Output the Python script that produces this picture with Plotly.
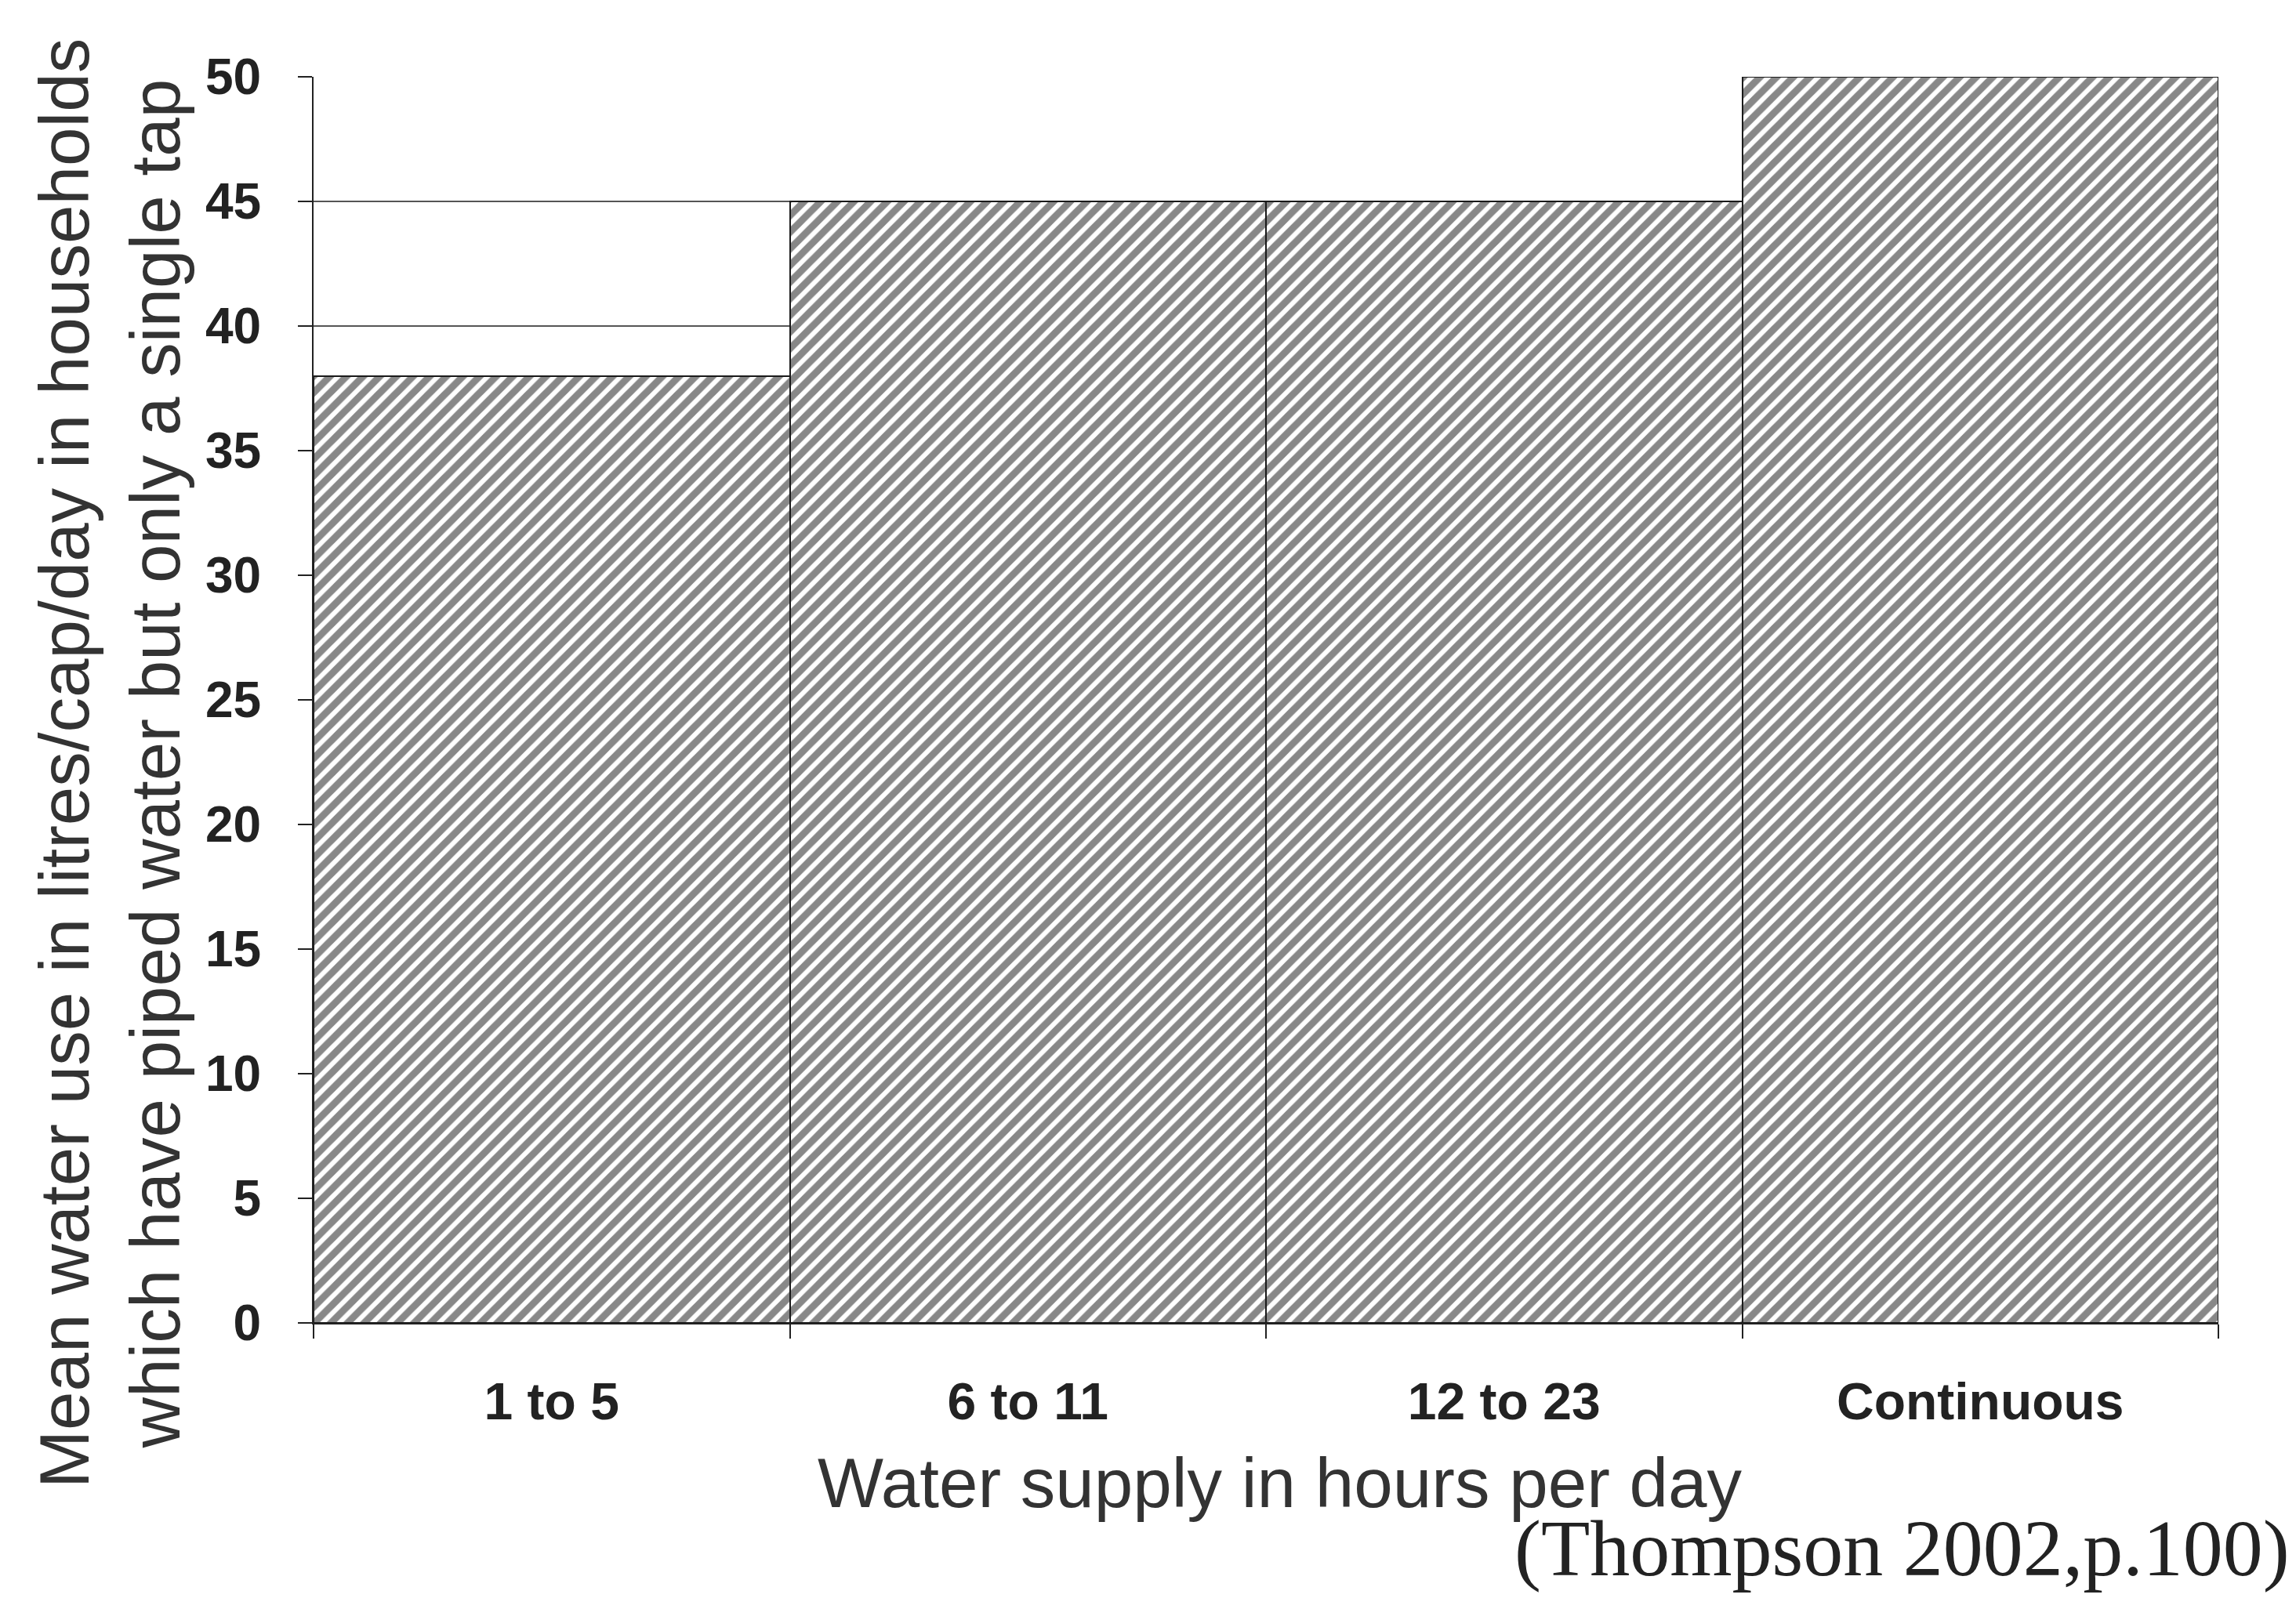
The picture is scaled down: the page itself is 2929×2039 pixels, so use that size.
import plotly.graph_objects as go

categories = ["1 to 5", "6 to 11", "12 to 23", "Continuous"]
values = [38, 45, 45, 50]
y_ticks = [0, 5, 10, 15, 20, 25, 30, 35, 40, 45, 50]

x_title = "Water supply in hours per day"
y_title_1 = "Mean water use in litres/cap/day in households"
y_title_2 = "which have piped water but only a single tap"
source = "(Thompson 2002,p.100)"

W, H = 2929, 2039
L, R, T, B = 392, 107, 90, 359

fig = go.Figure()
fig.add_trace(go.Bar(
    x=categories, y=values,
    marker=dict(
        color="white",
        line=dict(color="#1a1a1a", width=2),
        pattern=dict(shape="/", fgcolor="#111111", bgcolor="white", size=15, solidity=0.6),
    ),
    showlegend=False,
))

fig.update_layout(
    width=W, height=H,
    margin=dict(l=L, r=R, t=T, b=B, pad=0),
    paper_bgcolor="white", plot_bgcolor="white",
    bargap=0,
    font=dict(family="Liberation Sans, Arial, sans-serif", color="#222222"),
    xaxis=dict(
        type="category",
        showline=True, linecolor="#222222", linewidth=2,
        ticks="outside", tickson="boundaries", ticklen=18, tickwidth=2, tickcolor="#222222",
        tickfont=dict(size=66, family="Liberation Sans, Arial, sans-serif", weight="bold", color="#222222"),
        ticklabelstandoff=42,
        showgrid=False,
    ),
    yaxis=dict(
        range=[0, 50],
        tickvals=y_ticks,
        showline=True, linecolor="#222222", linewidth=2,
        ticks="outside", ticklen=18, tickwidth=2, tickcolor="#222222",
        tickfont=dict(size=64, family="Liberation Sans, Arial, sans-serif", weight="bold", color="#222222"),
        ticklabelstandoff=34,
        showgrid=True, gridcolor="#555555", gridwidth=2,
        zeroline=False,
    ),
    annotations=[
        dict(text=x_title, xref="paper", yref="paper", x=0.507, y=-0.128,
             xanchor="center", yanchor="middle", showarrow=False,
             font=dict(size=89, family="Liberation Sans, Arial, sans-serif", color="#333333")),
        dict(text=y_title_1 + "<br>" + y_title_2, xref="paper", yref="paper", x=-0.107, y=0.449,
             xanchor="center", yanchor="middle", showarrow=False, textangle=-90,
             font=dict(size=89, family="Liberation Sans, Arial, sans-serif", color="#333333")),
        dict(text=source, xref="paper", yref="paper", x=1.0 + (R - 14) / (W - L - R), y=-0.181,
             xanchor="right", yanchor="middle", showarrow=False,
             font=dict(size=102, family="Liberation Serif, Times New Roman, serif", color="#222222")),
    ],
)

fig.write_html("out.html")
